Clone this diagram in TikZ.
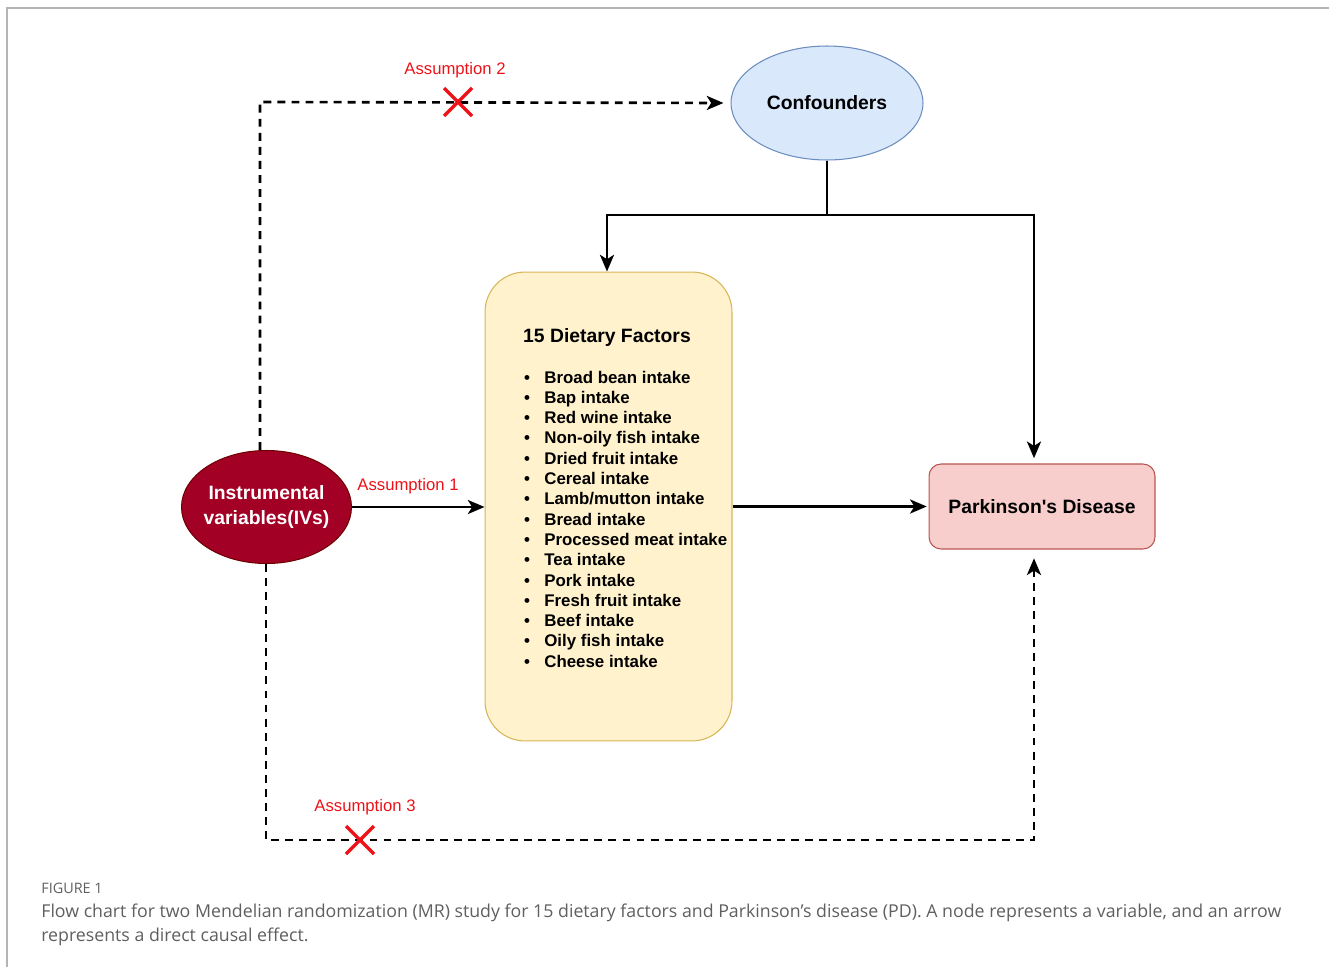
\documentclass[tikz,border=0pt]{standalone}
\usepackage{fontspec}
\setmainfont{Liberation Sans}
\newfontfamily\capfont{Open Sans}
\usetikzlibrary{arrows.meta,shapes.geometric,positioning,calc}
\definecolor{confblue}{HTML}{DAE8FC}
\definecolor{confline}{HTML}{6C8EBF}
\definecolor{dietfill}{HTML}{FFF2CC}
\definecolor{dietline}{HTML}{D6B656}
\definecolor{ivred}{HTML}{A20025}
\definecolor{ivline}{HTML}{6F0000}
\definecolor{pdfill}{HTML}{F8CECC}
\definecolor{pdline}{HTML}{B85450}
\definecolor{asred}{HTML}{EC1218}
\definecolor{capgray}{HTML}{5F5F5F}
\definecolor{framegray}{HTML}{B4B4B4}
\tikzset{
  bigtext/.style={font=\fontsize{11}{13.6}\selectfont\bfseries},
  listtext/.style={font=\fontsize{9.6}{11}\selectfont\bfseries, inner sep=0pt},
  ellnode/.style={ellipse, draw, line width=0.6pt, inner sep=0pt, align=center, bigtext},
  arr/.style={-{Stealth[length=9.5pt,width=8pt,inset=2.5pt]}, line width=1.5pt},
  dasharr/.style={arr, dash pattern=on 4.5pt off 3.5pt},
  asslabel/.style={text=asred, font=\fontsize{9.5}{11}\selectfont},
  nomark/.style={draw=asred, line width=2pt},
}

\begin{document}
\begin{tikzpicture}[x=0.02cm, y=-0.02cm]
  \useasboundingbox (0,0) rectangle (1329,967);
  % frame
  \draw[framegray, line width=0.8pt] (7,967) -- (7,8) -- (1329,8);

  % nodes
  \node[ellnode, fill=confblue, draw=confline, minimum width=3.84cm, minimum height=2.28cm] (conf) at (827,103) {Confounders};
  \node[ellnode, fill=ivred, draw=ivline, text=white, inner xsep=-1.6pt, minimum width=3.4cm, minimum height=2.26cm] (iv) at (266.5,507) {Instrumental\\[0.5pt]variables(IVs)};
  \node[draw=dietline, fill=dietfill, line width=0.6pt, rounded corners=0.8cm, minimum width=4.94cm, minimum height=9.38cm] (diet) at (608.5,506.5) {};
  \node[draw=pdline, fill=pdfill, line width=0.6pt, rounded corners=0.24cm, minimum width=4.52cm, minimum height=1.7cm, bigtext] (pd) at (1042,506.5) {Parkinson\textquotesingle s Disease};

  % list of factors
  \node[bigtext] (head) at (607,337) {15 Dietary Factors};
  \foreach \food [count=\n from 0] in {Broad bean intake, Bap intake, Red wine intake, Non-oily fish intake, Dried fruit intake, Cereal intake, Lamb/mutton intake, Bread intake, Processed meat intake, Tea intake, Pork intake, Fresh fruit intake, Beef intake, Oily fish intake, Cheese intake}
  {
    \node[listtext, anchor=base] (dot\n) at (527,{383+20.3*\n}) {\textbullet};
    \node[listtext, anchor=base west] (food\n) at (544,{383+20.3*\n}) {\food};
  }

  % helper points
  \coordinate (split) at (827,215);
  \coordinate (leftdrop) at (607,215);
  \coordinate (rightdrop) at (1034,215);
  \coordinate (topcorner) at (260,102);
  \coordinate (botcorner) at (266,840);
  \coordinate (botright) at (1034,840);

  % solid arrows
  \draw[arr] (iv.east) -- (iv.east -| diet.west);
  \draw[arr, shorten >=1pt] (diet.east) -- (pd.west);
  \draw[line width=1.5pt] (conf.south) -- (split);
  \draw[arr] (split) -- (leftdrop) -- (diet.north -| leftdrop);
  \draw[arr, shorten >=3pt] (split) -- (rightdrop) -- (pd.north -| rightdrop);

  % dashed arrows
  \draw[dasharr, shorten >=4pt] (iv.north -| topcorner) -- (topcorner) -- (conf.west);
  \draw[dasharr, shorten >=5pt] (iv.south -| botcorner) -- (botcorner) -- (botright) -- (pd.south -| botright);

  % violated assumptions
  \draw[nomark] (444,88) -- (472,116) (444,116) -- (472,88);
  \draw[nomark] (346,826) -- (374,854) (346,854) -- (374,826);

  % labels
  \node[asslabel] (as1) at (408,486) {Assumption 1};
  \node[asslabel] (as2) at (455,70) {Assumption 2};
  \node[asslabel] (as3) at (365,807) {Assumption 3};

  % caption
  \node[anchor=base west, inner sep=0pt, text=capgray, font=\capfont\fontsize{8.2}{9}\selectfont] (fig) at (41,893) {FIGURE 1};
  \node[anchor=base west, inner sep=0pt, align=left, text=capgray, font=\capfont\fontsize{10.1}{13.6}\selectfont] (cap) at (41,941)
  {Flow chart for two Mendelian randomization (MR) study for 15 dietary factors and Parkinson’s disease (PD). A node represents a variable, and an arrow\\represents a direct causal effect.};
\end{tikzpicture}
\end{document}
